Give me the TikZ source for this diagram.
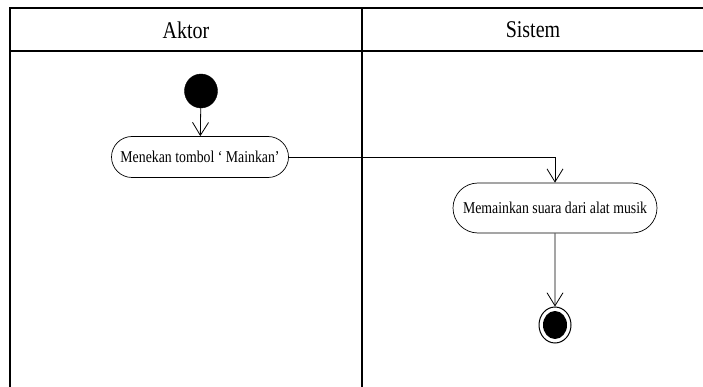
\documentclass[tikz,border=0pt]{standalone}
\usepackage{fontspec}
\setmainfont{Liberation Serif}
\usetikzlibrary{shapes.misc,shapes.geometric,arrows.meta}
% labels are set slightly taller than wide
\newcommand\tallText[1]{\scalebox{1}[1.2]{#1}}
\begin{document}
\begin{tikzpicture}[x=1pt,y=-1pt,
  lane/.style={line width=1.5pt},
  lanetitle/.style={font=\fontsize{20}{22}\selectfont},
  activity/.style={rounded rectangle, draw, line width=0.7pt, inner sep=0pt,
    font=\fontsize{13.8}{15}\selectfont},
  flow/.style={line width=0.8pt, -{Straight Barb[length=13pt,width=16pt,line width=0.8pt]}},
  startstate/.style={ellipse, fill=black, draw=black, minimum width=33pt, minimum height=34pt, inner sep=0pt},
  endstate/.style={ellipse, draw=black, line width=1pt, minimum width=32pt, minimum height=36pt, inner sep=0pt}]
  \useasboundingbox (0,0) rectangle (703,387);
  % swimlane frame
  \draw[lane] (10,387) -- (10,8) -- (703,8);
  \draw[lane] (10,51) -- (703,51);
  \draw[lane] (362,8) -- (362,387);
  \node[lanetitle] (laneA) at (186,30) {\tallText{Aktor}};
  \node[lanetitle] (laneS) at (533,30) {\tallText{Sistem}};
  % states and actions
  \node[startstate] (start) at (201,91) {};
  \node[activity, minimum width=177pt, minimum height=41pt] (a1) at (200,157) {\tallText{Menekan tombol ‘ Mainkan’}};
  \node[activity, minimum width=204pt, minimum height=50pt] (a2) at (555,208) {\tallText{Memainkan suara dari alat musik}};
  \node[endstate] (end) at (555,325) {};
  \fill (end.center) ellipse (12pt and 14pt);
  % transitions
  \draw[flow] (start) -- (a1);
  \draw[flow] (a1.east) -| (a2.north);
  \draw[flow] (a2) -- (end);
\end{tikzpicture}
\end{document}
